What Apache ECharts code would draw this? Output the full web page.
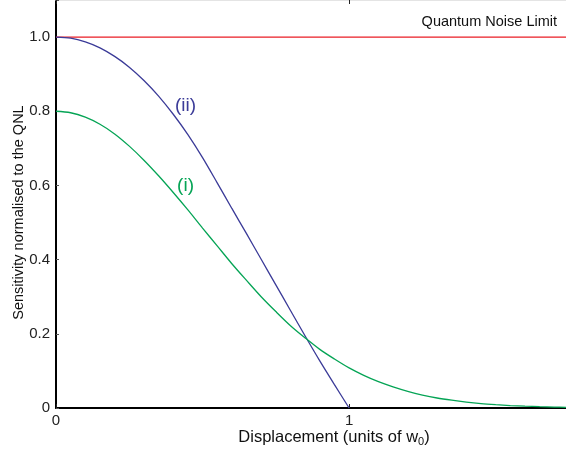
<!DOCTYPE html>
<html>
<head>
<meta charset="utf-8">
<script src="https://cdn.jsdelivr.net/npm/echarts@6/dist/echarts.min.js"></script>
<style>html,body{margin:0;padding:0;background:#fff}#c{width:566px;height:450px}</style>
</head>
<body>
<div id="c"></div>
<script>
// Curve (ii): x values and sensitivities
var xII = [0, 0.05, 0.10, 0.15, 0.20, 0.25, 0.30, 0.35, 0.40, 0.45, 0.50, 0.55, 0.60, 0.65, 0.70, 0.75, 0.80, 0.85, 0.90, 0.95, 1.00];
var yII = [1.000, 0.997, 0.987, 0.971, 0.948, 0.919, 0.883, 0.841, 0.792, 0.737, 0.675, 0.607, 0.538, 0.470, 0.401, 0.332, 0.263, 0.194, 0.127, 0.063, 0.000];
// Curve (i)
var xI = [0, 0.05, 0.10, 0.15, 0.20, 0.25, 0.30, 0.35, 0.40, 0.45, 0.50, 0.55, 0.60, 0.65, 0.70, 0.75, 0.80, 0.85, 0.90, 0.95, 1.00, 1.05, 1.10, 1.15, 1.20, 1.25, 1.30, 1.35, 1.40, 1.45, 1.50, 1.55, 1.60, 1.65, 1.70, 1.74];
var yI = [0.800, 0.796, 0.784, 0.765, 0.739, 0.706, 0.668, 0.626, 0.581, 0.534, 0.485, 0.437, 0.389, 0.344, 0.300, 0.260, 0.222, 0.189, 0.158, 0.132, 0.108, 0.088, 0.071, 0.057, 0.045, 0.035, 0.027, 0.021, 0.016, 0.012, 0.009, 0.0065, 0.0048, 0.0035, 0.0025, 0.0019];
// Quantum noise limit
var xQNL = [0, 1.74];
var yQNL = [1, 1];
// Curve labels (data coordinates)
var labelText = ['(ii)', '(i)'];
var labelX = [0.442, 0.442];
var labelY = [0.814, 0.600];
// Ticks
var yTicks = [0, 0.2, 0.4, 0.6, 0.8, 1.0];
var xTicks = [0, 1];

var FONT = 'Liberation Sans, Arial, Helvetica, sans-serif';
var BLUE = '#3b3b98', GREEN = '#05a455', RED = '#ea1d25';
var labelColors = [BLUE, GREEN];

function zip(a, b) { return a.map(function (v, i) { return [v, b[i]]; }); }

var chart = echarts.init(document.getElementById('c'));
chart.setOption({
  animation: false,
  backgroundColor: '#fff',
  textStyle: { fontFamily: FONT },
  grid: { left: 56, right: 0, top: 0, bottom: 42, containLabel: false, outerBoundsMode: 'none' },
  xAxis: [{
    type: 'value', min: 0, max: 1.74, interval: 1,
    axisLine: { lineStyle: { color: '#000', width: 2 } },
    axisTick: { inside: true, length: 4, lineStyle: { color: '#222' } },
    splitLine: { show: false },
    axisLabel: {
      color: '#222', fontSize: 15, fontFamily: FONT, margin: 5,
      formatter: function (v) { return xTicks.indexOf(v) >= 0 ? String(v) : ''; }
    },
    name: '{a|Displacement (units of w}{s|0}{a|)}',
    nameLocation: 'middle', nameGap: 20, nameMoveOverlap: false,
    nameTextStyle: {
      padding: [0, 0, 0, 46],
      rich: {
        a: { fontSize: 16.5, color: '#111', fontFamily: FONT, lineHeight: 19 },
        s: { fontSize: 11, color: '#111', fontFamily: FONT, lineHeight: 19, padding: [8, 0, 0, 0] }
      }
    }
  }, {
    type: 'value', position: 'top', min: 0, max: 1.74, interval: 1,
    axisLine: { show: true, lineStyle: { color: '#e4e4e4', width: 1 } },
    axisTick: { show: true, inside: true, length: 4, lineStyle: { color: '#222' } },
    axisLabel: { show: false }, splitLine: { show: false }
  }],
  yAxis: {
    type: 'value', min: 0, max: 1.1, interval: 0.2,
    axisLine: { show: true, lineStyle: { color: '#000', width: 2 } },
    axisTick: { show: true, inside: true, length: 3, lineStyle: { color: '#555' } },
    splitLine: { show: false },
    axisLabel: {
      color: '#222', fontSize: 15, fontFamily: FONT, margin: 6,
      formatter: function (v) {
        var r = Math.round(v * 10) / 10;
        if (Math.abs(r - v) > 1e-6 || r > 1.0001) return '';
        return r === 0 ? '0' : r.toFixed(1);
      }
    },
    name: 'Sensitivity normalised to the QNL',
    nameLocation: 'middle', nameGap: 30, nameMoveOverlap: false,
    nameTextStyle: { fontSize: 14.5, color: '#111', fontFamily: FONT, padding: [0, 17, 0, 0] }
  },
  series: [{
    type: 'line', data: zip(xQNL, yQNL), showSymbol: false, symbol: 'none',
    lineStyle: { color: RED, width: 1.2 }, z: 3
  }, {
    type: 'line', data: zip(xII, yII), smooth: 0.3, showSymbol: false, symbol: 'none',
    lineStyle: { color: BLUE, width: 1.3 }, z: 4
  }, {
    type: 'line', data: zip(xI, yI), smooth: 0.3, showSymbol: false, symbol: 'none',
    lineStyle: { color: GREEN, width: 1.3 }, z: 4
  }]
});

// Curve labels placed through the chart's own coordinate system
var gfx = [{
  type: 'text', right: 9, top: 14,
  style: { text: 'Quantum Noise Limit', font: '14.5px ' + FONT, fill: '#111' }
}];
labelText.forEach(function (t, i) {
  var p = chart.convertToPixel({ gridIndex: 0 }, [labelX[i], labelY[i]]);
  gfx.push({
    type: 'text', x: p[0], y: p[1], z: 10,
    style: { text: t, font: '19px ' + FONT, fill: labelColors[i], align: 'center', verticalAlign: 'middle' }
  });
});
chart.setOption({ graphic: gfx });
</script>
</body>
</html>
